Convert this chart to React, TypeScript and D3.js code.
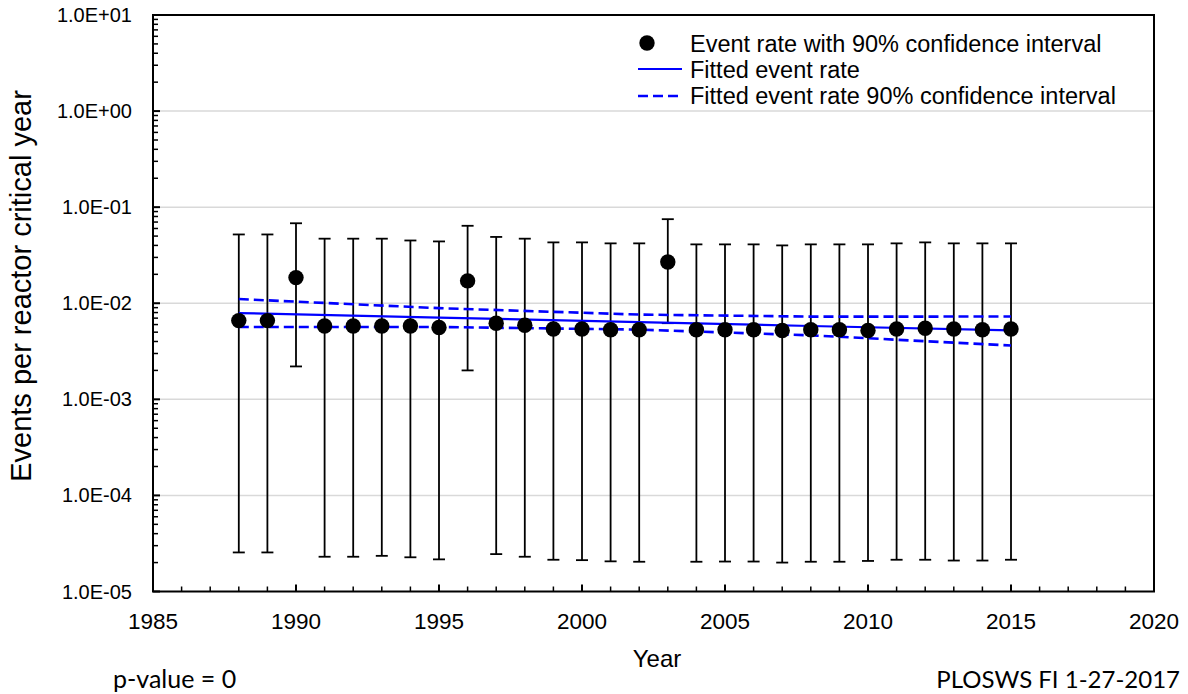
import React from 'react';
import * as d3 from 'd3';

const years = [1988,1989,1990,1991,1992,1993,1994,1995,1996,1997,1998,1999,2000,2001,2002,2003,2004,2005,2006,2007,2008,2009,2010,2011,2012,2013,2014,2015];
const rate = [0.0066,0.0066,0.0185,0.0058,0.0058,0.0058,0.0058,0.0056,0.0171,0.0062,0.0059,0.0054,0.0054,0.0053,0.0053,0.0269,0.0053,0.0053,0.0053,0.0052,0.0053,0.0053,0.0052,0.0054,0.0055,0.0054,0.0053,0.0054];
const upper = [0.052,0.052,0.068,0.047,0.047,0.047,0.045,0.044,0.064,0.049,0.047,0.043,0.043,0.042,0.042,0.075,0.041,0.041,0.041,0.040,0.041,0.041,0.041,0.042,0.043,0.042,0.042,0.042];
const lower = [2.55e-5,2.55e-5,0.0022,2.3e-5,2.3e-5,2.35e-5,2.27e-5,2.16e-5,0.0020,2.45e-5,2.3e-5,2.14e-5,2.12e-5,2.06e-5,2.04e-5,0.0062,2.04e-5,2.05e-5,2.05e-5,2.0e-5,2.04e-5,2.04e-5,2.08e-5,2.14e-5,2.14e-5,2.1e-5,2.1e-5,2.14e-5];

const fitYears = [1988,1995,2002,2008,2015];
const fitRate = [0.00791,0.00710,0.00637,0.00580,0.00521];
const fitUpper = [0.01106,0.00889,0.00762,0.00726,0.00727];
const fitLower = [0.00565,0.00566,0.00532,0.00463,0.00363];

const yTicks = [1e-5,1e-4,1e-3,1e-2,1e-1,1,10];
const yTickLabels = ['1.0E-05','1.0E-04','1.0E-03','1.0E-02','1.0E-01','1.0E+00','1.0E+01'];
const xTicks = [1985,1990,1995,2000,2005,2010,2015,2020];

const legendLabels = ['Event rate with 90% confidence interval','Fitted event rate','Fitted event rate 90% confidence interval'];

const W = 1188, H = 694;
const L = 153, R = 1154, T = 15, B = 591.5;
const FONT = 'Liberation Sans, Arial, sans-serif';
const NOTE_FONT = 'Lato, Open Sans, sans-serif';

export default function App() {
  const x = d3.scaleLinear().domain([1985, 2020]).range([L, R]);
  const y = d3.scaleLog().domain([1e-5, 10]).range([B, T]);

  const minorY: number[] = [];
  for (let e = -5; e < 1; e++) {
    for (let m = 2; m <= 9; m++) minorY.push(m * Math.pow(10, e));
  }
  const minorX: number[] = d3.range(1986, 2020).filter(v => v % 5 !== 0);

  const line = d3.line<[number, number]>().x(d => x(d[0])).y(d => y(d[1]));
  const fitPts = fitYears.map((yr, i) => [yr, fitRate[i]] as [number, number]);
  const upPts = fitYears.map((yr, i) => [yr, fitUpper[i]] as [number, number]);
  const loPts = fitYears.map((yr, i) => [yr, fitLower[i]] as [number, number]);

  const capW = 6;
  return (
    <svg width={W} height={H} style={{ position: 'absolute', left: 0, top: 0, background: '#fff' }} fontFamily={FONT}>
      <rect x={0} y={0} width={W} height={H} fill="#fff" />
      {yTicks.slice(1, -1).map(v => (
        <line key={'g' + v} x1={L} x2={R} y1={y(v)} y2={y(v)} stroke="#d9d9d9" strokeWidth={1.5} />
      ))}
      {years.map((yr, i) => (
        <g key={'e' + yr} stroke="#000" strokeWidth={1.8}>
          <line x1={x(yr)} x2={x(yr)} y1={y(upper[i])} y2={y(lower[i])} />
          <line x1={x(yr) - capW} x2={x(yr) + capW} y1={y(upper[i])} y2={y(upper[i])} />
          <line x1={x(yr) - capW} x2={x(yr) + capW} y1={y(lower[i])} y2={y(lower[i])} />
        </g>
      ))}
      <path d={line(fitPts) || ''} fill="none" stroke="#0000ff" strokeWidth={2.2} />
      <path d={line(upPts) || ''} fill="none" stroke="#0000ff" strokeWidth={2.6} strokeDasharray="10,5" />
      <path d={line(loPts) || ''} fill="none" stroke="#0000ff" strokeWidth={2.6} strokeDasharray="10,5" />
      {years.map((yr, i) => (
        <circle key={'m' + yr} cx={x(yr)} cy={y(rate[i])} r={7.7} fill="#000" />
      ))}
      <rect x={L} y={T} width={R - L} height={B - T} fill="none" stroke="#000" strokeWidth={2} />
      {yTicks.map(v => (
        <line key={'yt' + v} x1={L} x2={L + 7} y1={y(v)} y2={y(v)} stroke="#000" strokeWidth={2} />
      ))}
      {minorY.map(v => (
        <line key={'ym' + v} x1={L} x2={L + 5} y1={y(v)} y2={y(v)} stroke="#000" strokeWidth={1.5} />
      ))}
      {yTicks.map((v, i) => (
        <text key={'yl' + v} x={L - 21} y={y(v)} dy="0.35em" textAnchor="end" fontSize={20} fill="#000">{yTickLabels[i]}</text>
      ))}
      {xTicks.map(v => (
        <line key={'xt' + v} x1={x(v)} x2={x(v)} y1={B} y2={B - 7} stroke="#000" strokeWidth={2} />
      ))}
      {minorX.map(v => (
        <line key={'xm' + v} x1={x(v)} x2={x(v)} y1={B} y2={B - 5} stroke="#000" strokeWidth={1.5} />
      ))}
      {xTicks.map(v => (
        <text key={'xl' + v} x={x(v)} y={629} textAnchor="middle" fontSize={22.5} fill="#000">{v}</text>
      ))}
      <text x={657} y={667} textAnchor="middle" fontSize={24} fill="#000">Year</text>
      <text transform={`translate(31,286) rotate(-90)`} textAnchor="middle" fontSize={29} fill="#000">Events per reactor critical year</text>
      <text x={113} y={688} fontSize={25} fontFamily={NOTE_FONT} fill="#000">p-value = 0</text>
      <text x={1180} y={688} textAnchor="end" fontSize={24} fontFamily={NOTE_FONT} fill="#000">PLOSWS FI 1-27-2017</text>
      <circle cx={647} cy={43} r={7.7} fill="#000" />
      <line x1={638} x2={682} y1={69} y2={69} stroke="#0000ff" strokeWidth={2.2} />
      <line x1={638} x2={682} y1={96} y2={96} stroke="#0000ff" strokeWidth={2.6} strokeDasharray="10,5" />
      {legendLabels.map((t, i) => (
        <text key={'lg' + i} x={690} y={43.5 + i * 26.3} dy="0.35em" fontSize={23.5} fill="#000">{t}</text>
      ))}
    </svg>
  );
}
